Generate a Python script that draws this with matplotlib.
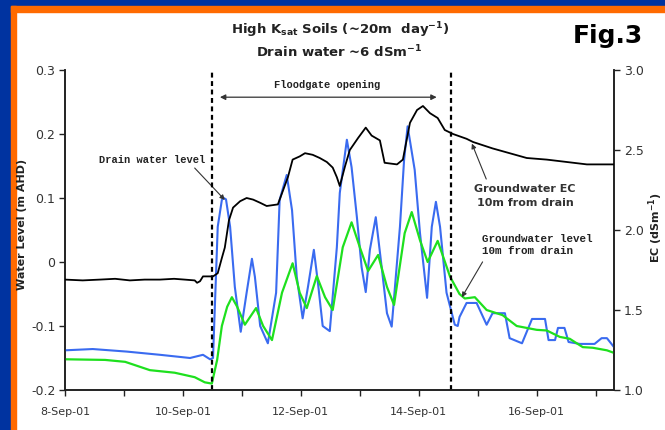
import matplotlib
matplotlib.use("Agg")
import matplotlib.pyplot as plt
from matplotlib.patches import Rectangle

# ---- data (x = days after 8-Sep-01) ----
drain_day = [0.00, 0.47, 1.05, 1.61, 2.12, 2.34, 2.46, 2.51, 2.59, 2.66, 2.69, 2.73, 2.80, 2.88,
             2.98, 3.08, 3.17, 3.22, 3.31, 3.44, 3.58, 3.64, 3.76, 3.85, 3.93, 4.03, 4.12, 4.22,
             4.29, 4.37, 4.49, 4.61, 4.66, 4.78, 4.86, 4.95, 5.03, 5.10, 5.17, 5.27, 5.37, 5.46,
             5.54, 5.68, 5.75, 5.81, 5.93, 6.02, 6.14, 6.22, 6.29, 6.36, 6.47, 6.61, 6.66, 6.69,
             6.81, 6.98, 7.15, 7.25, 7.46, 7.54, 7.75, 7.92, 8.14, 8.20, 8.31, 8.36, 8.47, 8.54,
             8.73, 8.98, 9.10, 9.19, 9.31]
drain_level = [-0.138, -0.136, -0.140, -0.145, -0.150, -0.145, -0.152, -0.150, 0.055, 0.097, 0.100,
               0.098, 0.055, -0.039, -0.109, -0.048, 0.005, -0.023, -0.100, -0.127, -0.048, 0.097,
               0.136, 0.081, -0.023, -0.088, -0.039, 0.019, -0.033, -0.100, -0.108, 0.023, 0.108,
               0.191, 0.148, 0.070, -0.008, -0.047, 0.019, 0.070, -0.008, -0.080, -0.101, 0.055,
               0.159, 0.212, 0.144, 0.045, -0.056, 0.055, 0.094, 0.055, -0.048, -0.098, -0.100,
               -0.086, -0.064, -0.064, -0.098, -0.080, -0.080, -0.119, -0.127, -0.089, -0.089,
               -0.122, -0.122, -0.103, -0.103, -0.125, -0.128, -0.128, -0.119, -0.119, -0.133]

gw_day = [0.00, 0.68, 1.02, 1.44, 1.86, 2.20, 2.37, 2.49, 2.58, 2.66, 2.75, 2.83, 2.92, 3.05, 3.24,
          3.36, 3.51, 3.68, 3.86, 3.98, 4.10, 4.27, 4.41, 4.54, 4.71, 4.86, 5.00, 5.14, 5.31, 5.46,
          5.58, 5.76, 5.88, 6.02, 6.15, 6.32, 6.53, 6.69, 6.78, 6.95, 7.15, 7.42, 7.66, 8.00, 8.17,
          8.39, 8.56, 8.78, 8.95, 9.19, 9.31]
gw_level = [-0.152, -0.153, -0.156, -0.169, -0.173, -0.180, -0.188, -0.190, -0.153, -0.100, -0.070,
            -0.055, -0.070, -0.098, -0.072, -0.100, -0.122, -0.048, -0.002, -0.048, -0.072, -0.022,
            -0.055, -0.075, 0.023, 0.062, 0.023, -0.014, 0.011, -0.039, -0.067, 0.045, 0.078, 0.034,
            0.000, 0.033, -0.023, -0.050, -0.057, -0.055, -0.075, -0.083, -0.100, -0.106, -0.107,
            -0.117, -0.120, -0.133, -0.134, -0.138, -0.142]

ec_day = [0.00, 0.30, 0.59, 0.85, 1.10, 1.35, 1.61, 1.85, 2.03, 2.20, 2.24, 2.29, 2.34, 2.51, 2.59,
          2.66, 2.71, 2.78, 2.85, 2.97, 3.08, 3.19, 3.31, 3.42, 3.61, 3.68, 3.78, 3.86, 3.98, 4.07,
          4.20, 4.32, 4.44, 4.54, 4.61, 4.66, 4.75, 4.83, 4.97, 5.10, 5.20, 5.34, 5.42, 5.63, 5.73,
          5.85, 5.97, 6.07, 6.19, 6.32, 6.44, 6.58, 6.81, 6.92, 7.25, 7.54, 7.83, 8.17, 8.51, 8.85,
          9.31]
ec_value = [1.690, 1.685, 1.690, 1.695, 1.685, 1.690, 1.690, 1.695, 1.690, 1.685, 1.670, 1.680, 1.710,
            1.710, 1.730, 1.825, 1.890, 2.060, 2.140, 2.180, 2.200, 2.190, 2.170, 2.150, 2.160, 2.230,
            2.330, 2.440, 2.460, 2.480, 2.470, 2.450, 2.425, 2.390, 2.330, 2.275, 2.400, 2.500, 2.575,
            2.640, 2.590, 2.560, 2.420, 2.410, 2.440, 2.670, 2.750, 2.775, 2.730, 2.700, 2.625, 2.600,
            2.570, 2.550, 2.510, 2.480, 2.450, 2.440, 2.425, 2.410, 2.410]

floodgate_start = 2.49
floodgate_end = 6.54
x_ticks = list(range(10))
x_labels = ["8-Sep-01", "", "10-Sep-01", "", "12-Sep-01", "", "14-Sep-01", "", "16-Sep-01", ""]
left_ticks = [-0.2, -0.1, 0.0, 0.1, 0.2, 0.3]
left_labels = ["-0.2", "-0.1", "0", "0.1", "0.2", "0.3"]
right_ticks = [1.0, 1.5, 2.0, 2.5, 3.0]
right_labels = ["1.0", "1.5", "2.0", "2.5", "3.0"]

W, H = 665, 430
fig = plt.figure(figsize=(W / 100, H / 100), dpi=100)
fig.patch.set_facecolor("white")

# frame decoration (blue + orange border)
blue_bg = "#0033A0"
orange = "#FF6A00"
fig.add_artist(Rectangle((0, 1 - 6 / H), 1, 6 / H, transform=fig.transFigure, color=blue_bg, zorder=-5))
fig.add_artist(Rectangle((0, 0), 11 / W, 1, transform=fig.transFigure, color=blue_bg, zorder=-5))
fig.add_artist(Rectangle((11 / W, 1 - 12 / H), 1 - 11 / W, 6 / H, transform=fig.transFigure, color=orange, zorder=-4))
fig.add_artist(Rectangle((11 / W, 0), 5 / W, 1 - 6 / H, transform=fig.transFigure, color=orange, zorder=-4))

ax = fig.add_axes([65 / W, 1 - 390 / H, (614 - 65) / W, 320 / H])
ax2 = ax.twinx()

ax.plot(drain_day, drain_level, color="#3A6BF0", lw=1.5, solid_joinstyle="round", zorder=3)
ax.plot(gw_day, gw_level, color="#1EE01E", lw=1.6, solid_joinstyle="round", zorder=3)
ax2.plot(ec_day, ec_value, color="black", lw=1.3, solid_joinstyle="round", zorder=4)

ax.set_xlim(0, 9.31)
ax.set_ylim(-0.2, 0.3)
ax2.set_ylim(1.0, 3.0)

tick_color = "#333333"
ax.set_xticks(x_ticks)
ax.set_xticklabels(x_labels, fontsize=8, color=tick_color)
ax.set_yticks(left_ticks)
ax.set_yticklabels(left_labels, fontsize=9, color=tick_color)
ax2.set_yticks(right_ticks)
ax2.set_yticklabels(right_labels, fontsize=9, color=tick_color)
for a in (ax, ax2):
    a.tick_params(direction="out", length=4, width=1, color="#222222", pad=3)
    a.spines["top"].set_visible(False)
    for s in ("left", "right", "bottom"):
        a.spines[s].set_linewidth(1.2)
        a.spines[s].set_color("#222222")
ax.tick_params(axis="x", pad=8)

# axis titles placed as in the reference
fig.text(22 / W, 1 - 224 / H, "Water Level (m AHD)", rotation=90, fontsize=8, fontweight="bold",
         color="#222222", ha="center", va="center")
fig.text(656 / W, 1 - 228 / H, "EC (dSm$^{\\mathbf{-1}}$)", rotation=90, fontsize=8, fontweight="bold",
         color="#222222", ha="center", va="center")

# floodgate dashed lines
for xv in (floodgate_start, floodgate_end):
    ax.axvline(xv, color="black", lw=1.6, ls=(0, (2.2, 1.6)), zorder=5)

mono = ["Liberation Mono", "DejaVu Sans Mono"]
ax.annotate("", xy=(2.58, 0.2575), xytext=(6.35, 0.2575),
            arrowprops=dict(arrowstyle="<|-|>", color="#333333", lw=0.9, mutation_scale=8))
ax.text(4.45, 0.277, "Floodgate opening", fontsize=7.5, fontweight="bold", family=mono,
        ha="center", va="center", color="#222222")

ax.annotate("Drain water level", xy=(2.71, 0.097), xytext=(1.47, 0.159),
            fontsize=7.5, fontweight="bold", family=mono, ha="center", va="center", color="#222222",
            arrowprops=dict(arrowstyle="-|>", color="#333333", lw=0.8, mutation_scale=7,
                            shrinkA=0, shrinkB=0, relpos=(0.88, 0.0)))

ax2.annotate("Groundwater EC\n10m from drain", xy=(6.9, 2.54), xytext=(7.8, 2.21),
             fontsize=8, fontweight="bold", ha="center", va="center", color="#333333",
             linespacing=1.5,
             arrowprops=dict(arrowstyle="-|>", color="#333333", lw=0.8, mutation_scale=7,
                             shrinkA=2, shrinkB=0, relpos=(0.14, 1.0)))

ax.annotate("Groundwater level\n10m from drain", xy=(6.73, -0.055), xytext=(7.07, 0.027),
            fontsize=7.8, fontweight="bold", family=mono, ha="left", va="center", color="#222222",
            linespacing=1.2,
            arrowprops=dict(arrowstyle="-|>", color="#333333", lw=0.8, mutation_scale=7,
                            shrinkA=3, shrinkB=0, relpos=(0.04, 0.0)))

# titles
fig.text(340 / W, 1 - 30 / H, "High K$_{\\mathbf{sat}}$ Soils (~20m  day$^{\\mathbf{-1}}$)", fontsize=9.5,
         fontweight="bold", ha="center", va="center", color="#222222")
fig.text(339 / W, 1 - 52 / H, "Drain water ~6 dSm$^{\\mathbf{-1}}$", fontsize=9.5,
         fontweight="bold", ha="center", va="center", color="#222222")
fig.text(608 / W, 1 - 36 / H, "Fig.3", fontsize=18, fontweight="bold", ha="center", va="center",
         color="black")

fig.savefig("out.png", dpi=100, facecolor="white")
